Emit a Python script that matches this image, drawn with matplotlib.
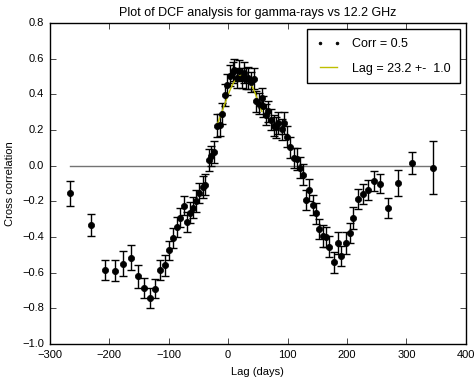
import numpy as np
import matplotlib
matplotlib.use("Agg")
import matplotlib.pyplot as plt
from matplotlib.lines import Line2D

# ---- data ----
lags = [-265.5, -230.6, -207.6, -190.8, -176.0, -163.0, -151.5, -140.9, -130.8, -122.4,
        -114.0, -106.6, -99.8, -92.6, -86.4, -80.3, -74.6, -69.0, -63.5, -58.9,
        -53.5, -48.8, -43.0, -38.2, -32.5, -28.6, -24.1, -18.5, -13.5, -9.6,
        -4.5, -1.1, 3.4, 7.9, 10.6, 15.7, 18.5, 23.0, 27.4, 30.3,
        34.2, 38.7, 43.3, 47.6, 52.2, 56.7, 59.4, 63.5, 67.8, 72.4,
        76.9, 80.8, 84.7, 90.4, 94.8, 99.8, 103.5, 110.0, 115.7, 121.2,
        125.8, 130.8, 135.9, 142.0, 147.6, 153.2, 158.8, 165.0, 170.5, 177.3,
        184.0, 189.7, 197.5, 204.2, 210.5, 217.7, 226.5, 234.8, 244.6, 255.3,
        268.9, 285.0, 309.8, 344.6]
dcf = [-0.153, -0.331, -0.585, -0.589, -0.550, -0.516, -0.619, -0.686, -0.742, -0.690,
       -0.587, -0.557, -0.473, -0.404, -0.342, -0.290, -0.223, -0.316, -0.262, -0.234,
       -0.198, -0.153, -0.119, -0.105, 0.032, 0.055, 0.077, 0.224, 0.230, 0.293,
       0.396, 0.454, 0.505, 0.525, 0.537, 0.492, 0.533, 0.492, 0.523, 0.488,
       0.492, 0.470, 0.488, 0.361, 0.348, 0.380, 0.333, 0.286, 0.305, 0.258,
       0.225, 0.215, 0.239, 0.205, 0.239, 0.164, 0.103, 0.043, 0.038, -0.010,
       -0.050, -0.191, -0.135, -0.219, -0.266, -0.355, -0.393, -0.400, -0.453, -0.542,
       -0.434, -0.505, -0.434, -0.377, -0.293, -0.186, -0.158, -0.135, -0.086, -0.100,
       -0.237, -0.097, 0.015, -0.011]
dcf_err = [0.070, 0.060, 0.054, 0.059, 0.070, 0.070, 0.065, 0.057, 0.058, 0.054,
           0.056, 0.059, 0.054, 0.055, 0.055, 0.055, 0.055, 0.055, 0.060, 0.058,
           0.060, 0.058, 0.060, 0.058, 0.060, 0.058, 0.060, 0.065, 0.062, 0.060,
           0.060, 0.058, 0.060, 0.058, 0.060, 0.058, 0.060, 0.058, 0.060, 0.058,
           0.060, 0.058, 0.060, 0.058, 0.060, 0.058, 0.060, 0.058, 0.060, 0.058,
           0.060, 0.058, 0.060, 0.058, 0.060, 0.058, 0.060, 0.058, 0.060, 0.058,
           0.060, 0.058, 0.060, 0.058, 0.060, 0.058, 0.060, 0.058, 0.060, 0.058,
           0.060, 0.058, 0.060, 0.058, 0.060, 0.058, 0.055, 0.055, 0.055, 0.055,
           0.058, 0.071, 0.060, 0.148]

# Gaussian fit parameters (peak lag from the legend)
fit_amp = 0.51
fit_center = 23.2
fit_sigma = 33.0
fit_range = (-18.5, 56.7)

corr_label = "Corr = 0.5"
lag_label = "Lag = 23.2 +-  1.0"

plt.style.use("classic")
plt.rcParams["font.family"] = ["Liberation Sans", "DejaVu Sans"]

fig = plt.figure(figsize=(4.74, 3.79), dpi=100, facecolor="white")
ax = fig.add_axes([0.105, 0.092, 0.878, 0.847])
ax.set_facecolor("white")

ax.plot([lags[0], lags[-1]], [0, 0], color="0.45", lw=1.0)
ax.errorbar(lags, dcf, yerr=dcf_err, fmt="o", color="k", ecolor="k",
            ms=4.5, mec="k", capsize=3, elinewidth=1.0, capthick=1.0)

xf = np.linspace(fit_range[0], fit_range[1], 200)
yf = fit_amp * np.exp(-(xf - fit_center) ** 2 / (2 * fit_sigma ** 2))
ax.plot(xf, yf, color="y", lw=1.0)

ax.set_xlim(-300, 400)
ax.set_ylim(-1.0, 0.8)
ax.set_xticks(np.arange(-300, 401, 100))
ax.set_yticks(np.arange(-1.0, 0.81, 0.2))
ax.tick_params(labelsize=8)
ax.set_title("Plot of DCF analysis for gamma-rays vs 12.2 GHz", fontsize=9)
ax.set_xlabel("Lag (days)", fontsize=8)
ax.set_ylabel("Cross correlation", fontsize=8)

handles = [Line2D([], [], color="k", marker=".", linestyle="none", ms=4),
           Line2D([], [], color="y", lw=1.0)]
ax.legend(handles, [corr_label, lag_label], loc="upper right", fontsize=9,
          numpoints=2, borderaxespad=0.5, handlelength=2.0, borderpad=0.7,
          labelspacing=1.0, handletextpad=0.9)

fig.savefig("out.png", dpi=100, facecolor="white")
